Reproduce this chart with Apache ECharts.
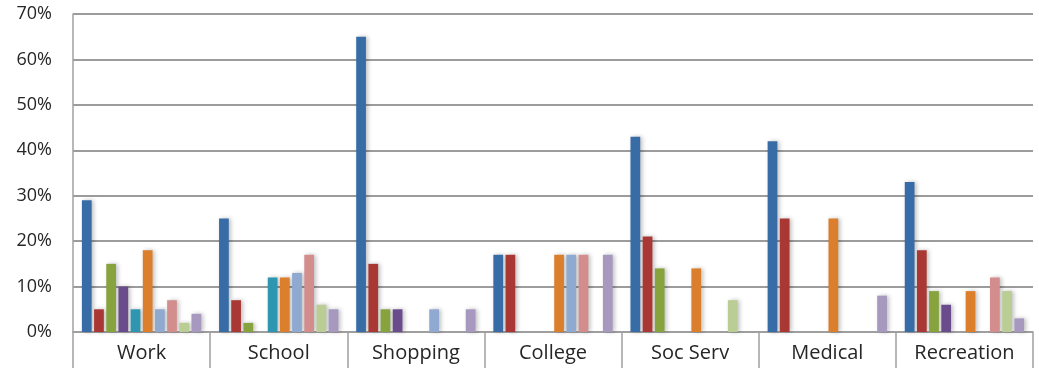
<!DOCTYPE html>
<html>
<head>
<meta charset="utf-8">
<script src="https://cdn.jsdelivr.net/npm/echarts@6/dist/echarts.min.js"></script>
<style>html,body{margin:0;padding:0;background:#fff;}#c{width:1039px;height:368px;}</style>
</head>
<body>
<div id="c"></div>
<script>
const categories = ['Work', 'School', 'Shopping', 'College', 'Soc Serv', 'Medical', 'Recreation'];
const yTicks = [0, 10, 20, 30, 40, 50, 60, 70];

const s1 = [29, 25, 65, 17, 43, 42, 33];
const s2 = [5, 7, 15, 17, 21, 25, 18];
const s3 = [15, 2, 5, 0, 14, 0, 9];
const s4 = [10, 0, 5, 0, 0, 0, 6];
const s5 = [5, 12, 0, 0, 0, 0, 0];
const s6 = [18, 12, 0, 17, 14, 25, 9];
const s7 = [5, 13, 5, 17, 0, 0, 0];
const s8 = [7, 17, 0, 17, 0, 0, 12];
const s9 = [2, 6, 0, 0, 7, 0, 9];
const s10 = [4, 5, 5, 17, 0, 8, 3];

const seriesData = [s1, s2, s3, s4, s5, s6, s7, s8, s9, s10];
const colors = ['#386CA6', '#A93834', '#87A33E', '#6A4C8C', '#2E96B0', '#DC7F2C', '#8FA9D0', '#D38D8D', '#B9CD94', '#A698BF'];

const chart = echarts.init(document.getElementById('c'), null, {renderer: 'canvas'});
chart.setOption({
  animation: false,
  backgroundColor: '#fff',
  grid: {left: 73, right: 6, top: 14, bottom: 36, containLabel: false},
  xAxis: {
    type: 'category',
    data: categories,
    axisLine: {show: true, lineStyle: {color: '#a0a0a0', width: 1.5}},
    axisTick: {show: true, length: 40, inside: false, lineStyle: {color: '#a0a0a0', width: 1.5}},
    axisLabel: {color: '#262626', fontFamily: 'Open Sans', fontSize: 20, margin: 11}
  },
  yAxis: {
    type: 'value',
    min: yTicks[0], max: yTicks[yTicks.length - 1], interval: 10,
    axisLine: {show: true, lineStyle: {color: '#a0a0a0', width: 1.5}},
    axisTick: {show: false},
    splitLine: {show: true, lineStyle: {color: '#9c9c9c', width: 2}},
    axisLabel: {color: '#262626', fontFamily: 'Open Sans', fontSize: 18, margin: 21, formatter: '{value}%'}
  },
  series: seriesData.map((d, i) => ({
    name: 'Series ' + (i + 1),
    type: 'bar',
    data: d,
    barGap: '25%',
    barCategoryGap: '13%',
    itemStyle: {
      color: colors[i],
      shadowColor: 'rgba(0,0,0,0.25)',
      shadowBlur: 4,
      shadowOffsetX: 2,
      shadowOffsetY: 0
    }
  }))
});
</script>
</body>
</html>
